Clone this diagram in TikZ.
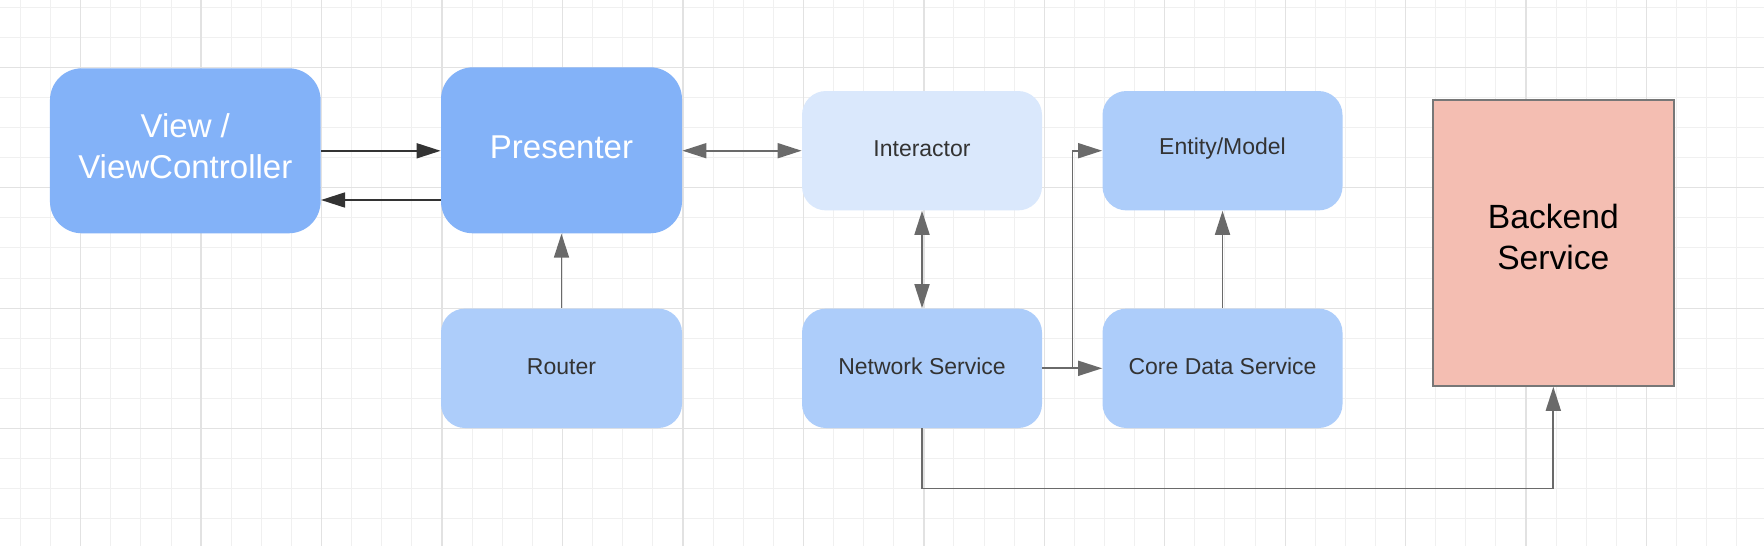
\documentclass[tikz,border=0pt]{standalone}
\usepackage{fontspec}
\setmainfont{Liberation Sans}
\usetikzlibrary{arrows.meta}
\definecolor{gridminor}{HTML}{F0F0F0}
\definecolor{gridmajor}{HTML}{E2E2E2}
\definecolor{bigblue}{HTML}{83B2F8}
\definecolor{midblue}{HTML}{ADCDFA}
\definecolor{paleblue}{HTML}{DAE8FC}
\definecolor{salmon}{HTML}{F4BEB2}
\definecolor{txtdark}{HTML}{333333}
\definecolor{linegray}{HTML}{6A6A6A}
\definecolor{linedark}{HTML}{333333}
\definecolor{bordergray}{HTML}{777777}
\newcommand{\liftby}[2]{\raisebox{#1}[\height][\depth]{#2}}
\tikzset{
  minorline/.style={gridminor, line width=0.5pt},
  majorline/.style={gridmajor, line width=0.7pt},
  bigbox/.style={rectangle, rounded corners=16pt, fill=bigblue, inner sep=0pt,
    text=white, align=center, font=\fontsize{16.5}{20.35}\selectfont},
  smallbox/.style={rectangle, rounded corners=12pt, fill=midblue, inner sep=0pt,
    minimum width=120pt, minimum height=59.7pt, text=txtdark, align=center,
    font=\fontsize{11.5}{13.8}\selectfont},
  backbox/.style={rectangle, fill=salmon, draw=bordergray, line width=0.8pt, inner sep=0pt,
    minimum width=120.6pt, minimum height=143pt, text=black, align=center,
    font=\fontsize{16.8}{20.3}\selectfont},
  darkarrow/.style={draw=linedark, line width=0.85pt, -{Triangle[length=12pt,width=7.5pt]}},
  grayarrow/.style={draw=linegray, line width=0.85pt, -{Triangle[length=12pt,width=7.5pt]}},
  graydouble/.style={draw=linegray, line width=0.85pt, {Triangle[length=12pt,width=7.5pt]}-{Triangle[length=12pt,width=7.5pt]}},
}
\begin{document}
\begin{tikzpicture}[x=0.5pt, y=-0.5pt]
\useasboundingbox (0,0) rectangle (1764,546);
\fill[white] (0,0) rectangle (1764,546);
% grid
\foreach \i in {0,...,58} {\draw[minorline] ({20.5+30.11*\i},0) -- ++(0,546);}
\foreach \i in {0,...,18} {\draw[minorline] (0,{7.1+30.11*\i}) -- ++(1764,0);}
\foreach \i in {0,...,14} {\draw[majorline] ({80.7+120.45*\i},0) -- ++(0,546);}
\foreach \i in {0,...,3} {\draw[majorline] (0,{67.3+120.45*\i}) -- ++(1764,0);}
% nodes
\node[bigbox, minimum width=135.35pt, minimum height=82.5pt] (view) at (185.3,150.8) {\liftby{2.25pt}{\parbox{130pt}{\centering View /\\ViewController}}};
\node[bigbox, minimum width=120.5pt, minimum height=83pt] (presenter) at (561.5,150.3) {\liftby{1.5pt}{Presenter}};
\node[smallbox, fill=paleblue] (interactor) at (922,150.7) {\liftby{1pt}{Interactor}};
\node[smallbox] (entity) at (1222.5,150.7) {\liftby{1pt}{Entity/Model}};
\node[smallbox, minimum width=120.5pt] (router) at (561.5,368.3) {\liftby{1pt}{Router}};
\node[smallbox] (network) at (922,368.3) {\liftby{1pt}{Network Service}};
\node[smallbox] (core) at (1222.5,368.3) {\liftby{1pt}{Core Data Service}};
\node[backbox] (backend) at (1553.3,243) {\liftby{3.1pt}{\parbox{110pt}{\centering Backend\\Service}}};
% connectors
\draw[darkarrow] (view.east) -- (view.east -| presenter.west);
\coordinate (pv) at ([yshift=-24.85pt]presenter.west);
\draw[darkarrow] (pv) -- (pv -| view.east);
\draw[graydouble] (presenter.east |- interactor.west) -- (interactor.west);
\draw[grayarrow] (router.north) -- (presenter.south);
\draw[graydouble] (interactor.south) -- (network.north);
\draw[grayarrow] (core.north) -- (entity.south);
\draw[grayarrow] (network.east) -- (core.west);
\draw[grayarrow] (network.east) -- ++(30,0) |- (entity.west);
\draw[grayarrow] (network.south) -- ++(0,60) -| (backend.south);
\end{tikzpicture}
\end{document}
